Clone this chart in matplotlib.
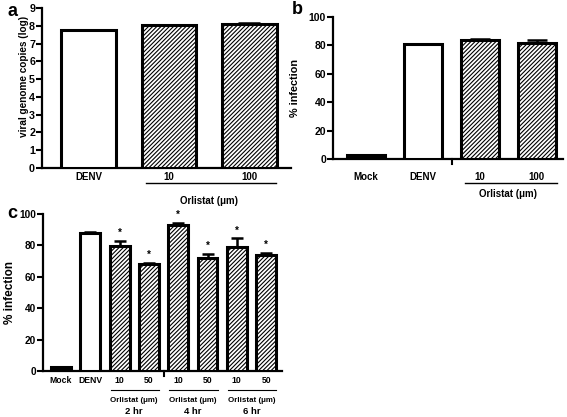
import matplotlib
matplotlib.use("Agg")
import matplotlib.pyplot as plt
import numpy as np

plt.rcParams['font.family'] = ['Liberation Sans', 'DejaVu Sans']
plt.rcParams['font.weight'] = 'bold'
plt.rcParams['hatch.linewidth'] = 0.8

# ---- data ----
a_labels = ['DENV', '10', '100']
a_vals = [7.75, 8.02, 8.12]
a_err = [0.04, 0.04, 0.05]
a_fill = ['white', 'hatch', 'hatch']

b_labels = ['Mock', 'DENV', '10', '100']
b_vals = [2.5, 80.8, 83.8, 82.0]
b_err = [0.4, 0.5, 0.9, 1.6]
b_fill = ['black', 'white', 'hatch', 'hatch']

c_labels = ['Mock', 'DENV', '10', '50', '10', '50', '10', '50']
c_vals = [2.5, 88.0, 79.6, 68.2, 93.0, 72.0, 79.0, 73.8]
c_err = [0.3, 0.8, 3.0, 0.8, 1.2, 2.8, 5.4, 1.4]
c_fill = ['black', 'white', 'hatch', 'hatch', 'hatch', 'hatch', 'hatch', 'hatch']
c_star = [False, False, True, True, True, True, True, True]
c_groups = ['2 hr', '4 hr', '6 hr']

W, H = 567, 417
fig = plt.figure(figsize=(W / 100, H / 100), dpi=100)


def add_ax(x0, x1, ytop, ybot):
    return fig.add_axes([x0 / W, 1 - ybot / H, (x1 - x0) / W, (ybot - ytop) / H])


def style(ax, ymax, ystep, tick_fs, xpad):
    for s in ['top', 'right']:
        ax.spines[s].set_visible(False)
    ax.spines['left'].set_linewidth(1.6)
    ax.spines['bottom'].set_linewidth(1.6)
    ax.set_ylim(0, ymax)
    ax.set_yticks(np.arange(0, ymax + 0.001, ystep))
    ax.tick_params(axis='y', direction='out', length=4, width=1.5, labelsize=tick_fs, pad=1)
    ax.tick_params(axis='x', length=0, pad=xpad)
    for t in ax.get_yticklabels():
        t.set_fontweight('bold')


def draw_bars(ax, vals, errs, fills, width, capsize):
    x = np.arange(len(vals))
    for xi, v, f in zip(x, vals, fills):
        if f == 'black':
            ax.bar(xi, v, width, color='black', edgecolor='black', linewidth=2.2, zorder=3)
        elif f == 'white':
            ax.bar(xi, v, width, color='white', edgecolor='black', linewidth=2.2, zorder=3)
        else:
            ax.bar(xi, v, width, color='white', edgecolor='black', linewidth=2.2,
                   hatch='////////', zorder=3)
    ax.errorbar(x, vals, yerr=[np.zeros(len(vals)), errs], fmt='none', ecolor='black',
                elinewidth=1.8, capsize=capsize, capthick=1.8, zorder=2)
    return x


def below_text(ax, x, dy_px, s, fs):
    ax.annotate(s, xy=(x, 0), xycoords=ax.get_xaxis_transform(), xytext=(0, -dy_px),
                textcoords='offset pixels', ha='center', va='center', fontsize=fs,
                fontweight='bold', annotation_clip=False)


def below_line(ax, x0, x1, dy_px, lw=1.0):
    hpx = ax.get_position().height * H
    yf = -dy_px / hpx
    ax.plot([x0, x1], [yf, yf], color='black', lw=lw, transform=ax.get_xaxis_transform(),
            clip_on=False)


def break_tick(ax, x, len_px=5):
    hpx = ax.get_position().height * H
    ax.plot([x, x], [0, -len_px / hpx], color='black', lw=1.5,
            transform=ax.get_xaxis_transform(), clip_on=False)


def ylabel_at(ax, text, fs, x_px_fig, yf=0.5):
    pos = ax.get_position()
    xf = (x_px_fig / W - pos.x0) / pos.width
    ax.set_ylabel(text, fontsize=fs, fontweight='bold')
    ax.yaxis.set_label_coords(xf, yf)


# ---- panel a ----
axa = add_ax(42, 291, 8, 168)
style(axa, 9, 1, 7.7, 3)
xa = draw_bars(axa, a_vals, a_err, a_fill, 0.68, 8)
axa.set_xlim(-0.58, 2.52)
axa.set_xticks(xa)
axa.set_xticklabels(a_labels, fontsize=7, fontweight='bold')
ylabel_at(axa, 'viral genome copies (log)', 7.2, 29, 0.57)
below_line(axa, 1 - 0.29, 2 + 0.33, 15)
below_text(axa, 1.5, 33, 'Orlistat (μm)', 7)

# ---- panel b ----
axb = add_ax(333, 563, 17, 159)
style(axb, 100, 20, 7.5, 9)
xb = draw_bars(axb, b_vals, b_err, b_fill, 0.67, 7)
axb.set_xlim(-0.58, 3.46)
axb.set_xticks(xb)
axb.set_xticklabels(b_labels, fontsize=7, fontweight='bold')
ylabel_at(axb, '% infection', 7.8, 300)
break_tick(axb, 1.51)
below_line(axb, 2 - 0.27, 3 + 0.36, 24)
below_text(axb, 2.5, 35, 'Orlistat (μm)', 7)

# ---- panel c ----
axc = add_ax(43, 282, 214, 371)
style(axc, 100, 20, 7.3, 3.5)
xc = draw_bars(axc, c_vals, c_err, c_fill, 0.68, 4)
axc.set_xlim(-0.61, 7.54)
axc.set_xticks(xc)
axc.set_xticklabels(c_labels, fontsize=6.2, fontweight='bold')
ylabel_at(axc, '% infection', 8.5, 16)
break_tick(axc, 3.52)
for xi, v, e, st in zip(xc, c_vals, c_err, c_star):
    if st:
        axc.annotate('*', xy=(xi, v + e), xytext=(0, 3), textcoords='offset pixels',
                     ha='center', va='bottom', fontsize=7, fontweight='bold')
for g, lab in enumerate(c_groups):
    x0 = 2 + 2 * g
    below_line(axc, x0 - 0.3, x0 + 1 + 0.35, 19, lw=0.8)
    below_text(axc, x0 + 0.5, 30, 'Orlistat (μm)', 5.7)
    below_text(axc, x0 + 0.5, 41, lab, 6.8)

# ---- panel letters ----
fig.text(12 / W, 1 - 11 / H, 'a', fontsize=13, fontweight='bold', ha='center', va='center')
fig.text(297 / W, 1 - 9 / H, 'b', fontsize=13, fontweight='bold', ha='center', va='center')
fig.text(12 / W, 1 - 213 / H, 'c', fontsize=13, fontweight='bold', ha='center', va='center')

fig.savefig('out.png', dpi=100, facecolor='white')
